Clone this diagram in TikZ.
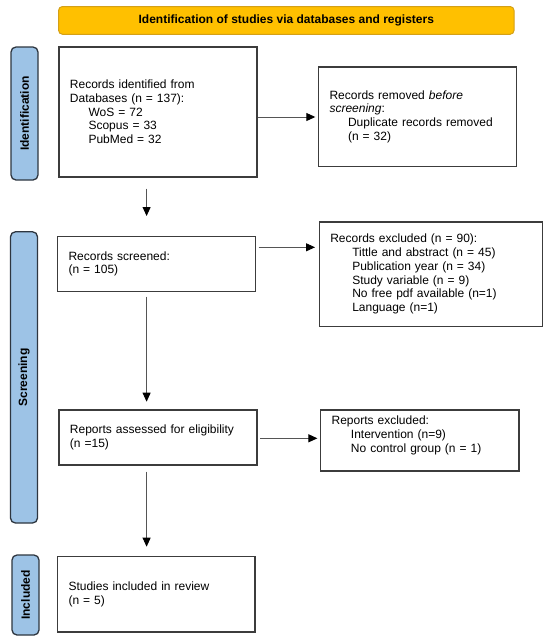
\documentclass[tikz,border=0pt]{standalone}
\usepackage{fontspec}
\setmainfont{Liberation Sans}
\usetikzlibrary{arrows.meta}
\definecolor{hdrfill}{HTML}{FFC000}
\definecolor{hdrdraw}{HTML}{D4A017}
\definecolor{barfill}{HTML}{9DC3E6}
\definecolor{bardraw}{HTML}{2E3640}
\definecolor{boxdraw}{HTML}{3C3C3C}
\definecolor{arrline}{HTML}{555555}
\begin{document}
\begin{tikzpicture}[x=1pt,y=-1pt,
  every node/.style={font=\fontsize{12}{13.8}\selectfont},
  header/.style={rectangle, rounded corners=4pt, fill=hdrfill, draw=hdrdraw, line width=1pt,
    font=\fontsize{12}{14}\selectfont\bfseries, inner sep=0pt},
  phase/.style={rectangle, rounded corners=5pt, fill=barfill, draw=bardraw, line width=1.3pt,
    rotate=90, minimum height=27pt, inner sep=0pt, font=\fontsize{12}{14}\selectfont\bfseries},
  flowbox/.style={rectangle, draw=boxdraw, line width=1.5pt, align=left, anchor=north west,
    inner xsep=11pt, inner ysep=0pt},
  arr/.style={draw=arrline, line width=0.9pt, -{Triangle[length=9pt,width=8pt,color=black]}}
]
\useasboundingbox[fill=white] (0,0) rectangle (550,643);

% header
\node[header, minimum width=455.5pt, minimum height=27.8pt] (hdr) at (286.3,20.4)
  {Identification of studies via databases and registers};

% phase bars
\node[phase, minimum width=133pt] (pid) at (24.5,113.5) {Identification};
\node[phase, minimum width=291.3pt] (pscr) at (24,377.4) {Screening};
\node[phase, minimum width=80pt] (pinc) at (25.5,595) {Included};

% boxes
\node[flowbox, text width=175.8pt, minimum height=130pt] (b1) at (58.2,46)
  {Records identified from\\
   Databases (n = 137):\\
   \hspace*{18.6pt}WoS = 72\\
   \hspace*{18.6pt}Scopus = 33\\
   \hspace*{18.6pt}PubMed = 32};
\node[flowbox, text width=175.8pt, minimum height=99.7pt] (b2) at (317.8,66)
  {Records removed \textit{before}\\
   \textit{screening}:\\
   \hspace*{18.5pt}Duplicate records removed\\
   \hspace*{18.5pt}(n = 32)};
\node[flowbox, text width=175.8pt, minimum height=55pt] (b3) at (56.8,235.7)
  {Records screened:\\
   (n = 105)};
\node[flowbox, text width=201pt, minimum height=104.7pt] (b4) at (318.5,221)
  {Records excluded (n = 90):\\
   \hspace*{22pt}Tittle and abstract (n = 45)\\
   \hspace*{22pt}Publication year (n = 34)\\
   \hspace*{22pt}Study variable (n = 9)\\
   \hspace*{22pt}No free pdf available (n=1)\\
   \hspace*{22pt}Language (n=1)};
\node[flowbox, text width=176.2pt, minimum height=54.7pt] (b5) at (58.2,409.3)
  {Reports assessed for eligibility\\
   (n =15)};
\node[flowbox, text width=176.1pt, minimum height=61pt] (b6) at (319.9,409)
  {Reports excluded:\\
   \hspace*{19.3pt}Intervention (n=9)\\
   \hspace*{19.3pt}No control group (n = 1)\rule[-12pt]{0pt}{12pt}};
\node[flowbox, text width=175.5pt, minimum height=75.6pt] (b7) at (56.8,555.7)
  {Studies included in review\\
   (n = 5)};

% connectors
\coordinate (ax) at (146.6,0);
\coordinate (r1) at (0,117);
\coordinate (r3) at (0,247.3);
\coordinate (r5) at (0,438.3);

\draw[arr, shorten <=11pt, shorten >=19.7pt] (b1.south -| ax) -- (b3.north -| ax);
\draw[arr, shorten <=4.3pt, shorten >=7.6pt] (b3.south -| ax) -- (b5.north -| ax);
\draw[arr, shorten <=6pt, shorten >=9pt] (b5.south -| ax) -- (b7.north -| ax);

\draw[arr, shorten >=2.5pt] (b1.east |- r1) -- (b2.west |- r1);
\draw[arr, shorten <=2.4pt, shorten >=3.5pt] (b3.east |- r3) -- (b4.west |- r3);
\draw[arr, shorten <=2.5pt, shorten >=2.5pt] (b5.east |- r5) -- (b6.west |- r5);
\end{tikzpicture}
\end{document}
